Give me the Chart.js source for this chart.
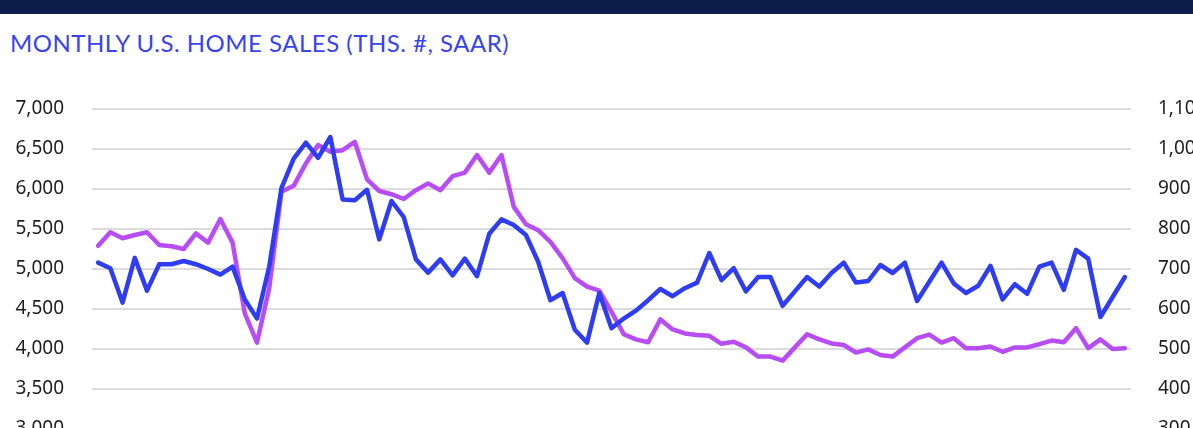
<!DOCTYPE html>
<html>
<head>
<meta charset="utf-8">
<script src="https://cdn.jsdelivr.net/npm/chart.js@4.4.1/dist/chart.umd.min.js"></script>
<style>
  html, body { margin: 0; padding: 0; background: #fff; overflow: hidden; width: 1193px; height: 428px; }
  #bar { position: absolute; left: 0; top: 0; width: 1193px; height: 14px; background: #0b1d48; }
  #title { position: absolute; left: 10px; top: 31px; font-family: Lato, "Noto Sans", sans-serif; font-size: 24px; letter-spacing: 0.5px; line-height: 1; color: #3844f2; white-space: nowrap; }
  #wrap { position: absolute; left: 0; top: 64px; width: 1220px; height: 410px; }
</style>
</head>
<body>
<div id="bar"></div>
<div id="title">MONTHLY U.S. HOME SALES (THS. #, SAAR)</div>
<div id="wrap"><canvas id="myChart" width="1220" height="410"></canvas></div>
<script>
// existing home sales (left axis), ths, SAAR
const existingSales = [
    5080, 5010, 4580, 5140, 4730, 5060, 5060, 5100, 5060, 5000,
    4930, 5030, 4620, 4380, 5030, 6010, 6380, 6580, 6390, 6650,
    5870, 5860, 5990, 5370, 5850, 5650, 5120, 4955, 5120, 4920,
    5130, 4910, 5440, 5620, 5550, 5425, 5090, 4610, 4700, 4240,
    4080, 4700, 4260, 4380, 4480, 4610, 4750, 4660, 4760, 4830,
    5200, 4860, 5010, 4720, 4900, 4900, 4540, 4720, 4900, 4780,
    4950, 5080, 4830, 4850, 5050, 4950, 5080, 4600, 4840, 5080,
    4820, 4700, 4790, 5040, 4620, 4810, 4690, 5030, 5080, 4740,
    5240, 5130, 4400, 4650, 4900
];

// new home sales (right axis), ths, SAAR
const newSales = [
    758, 792, 777, 785, 792, 760, 757, 750, 789, 766,
    825, 766, 589, 516, 652, 893, 908, 964, 1010, 993,
    997, 1018, 924, 895, 887, 875, 897, 914, 897, 932,
    941, 985, 941, 985, 856, 812, 797, 768, 727, 677,
    656, 646, 593, 537, 524, 517, 574, 549, 539, 535,
    533, 513, 518, 504, 481, 481, 471, 504, 537, 524,
    514, 510, 491, 499, 485, 481, 504, 527, 536, 516,
    527, 502, 502, 506, 493, 504, 504, 512, 521, 517,
    552, 502, 524, 500, 502
];

// monthly categories
const monthNames = ['Jan', 'Feb', 'Mar', 'Apr', 'May', 'Jun', 'Jul', 'Aug', 'Sep', 'Oct', 'Nov', 'Dec'];
const startYear = 2019;
const months = existingSales.map((v, i) => monthNames[i % 12] + ' ' + (startYear + Math.floor(i / 12)));

const leftTicks = { min: 3000, max: 7000, step: 500 };
const rightTicks = { min: 300, max: 1100, step: 100 };

const tickFont = { family: '"Noto Sans", sans-serif', size: 19 };

const ctx = document.getElementById('myChart').getContext('2d');
const myChart = new Chart(ctx, {
    type: 'line',
    data: {
        labels: months,
        datasets: [{
            label: 'Existing home sales',
            data: existingSales,
            yAxisID: 'y',
            borderColor: '#2e3cf2',
            borderWidth: 4.5,
        }, {
            label: 'New home sales',
            data: newSales,
            yAxisID: 'y1',
            borderColor: '#b84cf6',
            borderWidth: 4.5,
        }]
    },
    options: {
        responsive: false,
        animation: false,
        devicePixelRatio: 1,
        // padding larger than the tick label overhang so it decides the plot box
        layout: { padding: { top: 45, bottom: 45, left: 0, right: 0 } },
        elements: {
            point: { radius: 0 },
            line: { tension: 0, borderJoinStyle: 'round', borderCapStyle: 'round' }
        },
        plugins: {
            legend: { display: false },
            tooltip: { enabled: false },
        },
        scales: {
            x: {
                display: false,
                offset: true,
            },
            y: {
                position: 'left',
                min: leftTicks.min,
                max: leftTicks.max,
                border: { display: false },
                grid: { color: '#dcdcdc', lineWidth: 2, drawTicks: false },
                ticks: {
                    stepSize: leftTicks.step,
                    padding: 28,
                    color: '#1e1e1e',
                    font: tickFont,
                    callback: v => v.toLocaleString('en-US'),
                },
                afterFit: scale => { scale.width = 92; },
            },
            y1: {
                position: 'right',
                min: rightTicks.min,
                max: rightTicks.max,
                border: { display: false },
                grid: { display: false, drawTicks: false },
                ticks: {
                    stepSize: rightTicks.step,
                    padding: 27,
                    color: '#1e1e1e',
                    font: tickFont,
                    callback: v => v.toLocaleString('en-US'),
                },
                afterFit: scale => { scale.width = 89; },
            },
        }
    }
});
</script>
</body>
</html>
